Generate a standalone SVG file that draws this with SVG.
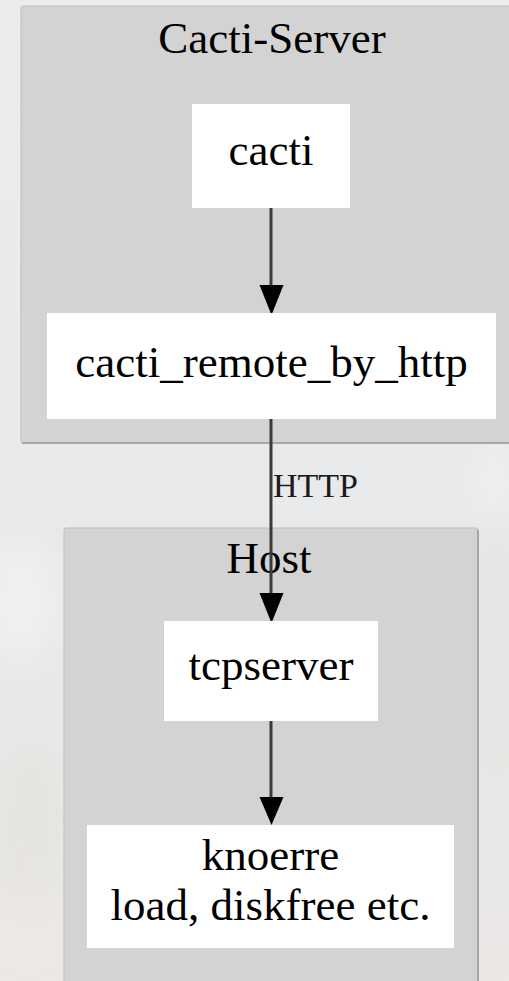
<svg xmlns="http://www.w3.org/2000/svg" width="509" height="981" viewBox="0 0 509 981">
<defs>
<style>
.cl{fill:#d3d3d3;stroke:#bdbdbd;stroke-width:1}
.clb{stroke:#9a9a9a;stroke-width:1.5;fill:none}
.nd{fill:#ffffff}
.t{font-family:'Liberation Serif','DejaVu Serif',serif;font-size:45px;fill:#000;text-anchor:middle}
.lbl{font-family:'Liberation Serif','DejaVu Serif',serif;font-size:34px;fill:#1a1a1a}
.e{stroke:#3a3a3a;stroke-width:3;fill:none}
.ah{fill:#000}
</style>
<linearGradient id="bg" x1="0" y1="0" x2="0" y2="1">
<stop offset="0" stop-color="#ebecee"/>
<stop offset="0.6" stop-color="#e8e9ea"/>
<stop offset="1" stop-color="#ebe8e6"/>
</linearGradient>
<filter id="blur" x="-50%" y="-50%" width="200%" height="200%"><feGaussianBlur stdDeviation="14"/></filter>
</defs>
<rect x="0" y="0" width="509" height="981" fill="url(#bg)"/>
<g filter="url(#blur)" opacity="0.5">
<ellipse cx="20" cy="600" rx="40" ry="60" fill="#f4f6f4"/>
<ellipse cx="30" cy="820" rx="40" ry="80" fill="#e3e1dc"/>
<ellipse cx="30" cy="950" rx="50" ry="40" fill="#efe8e4"/>
<ellipse cx="495" cy="650" rx="20" ry="140" fill="#e2e1dc"/>
<ellipse cx="495" cy="480" rx="25" ry="40" fill="#f3f3f3"/>
</g>
<g id="cluster_cacti_server">
<rect class="cl" x="21" y="6" width="500" height="437" rx="2"/>
<line class="clb" x1="22" y1="443" x2="509" y2="443"/>
<text class="t" x="272" y="53">Cacti-Server</text>
</g>
<g id="cluster_host">
<rect class="cl" x="64" y="528" width="414" height="470" rx="2"/>
<line class="clb" x1="478" y1="530" x2="478" y2="981"/>
<text class="t" x="269" y="573">Host</text>
</g>
<g id="connectors">
<line class="e" x1="271" y1="208" x2="271" y2="287"/>
<polygon class="ah" points="259.5,285 283.5,285 271.5,315"/>
<line class="e" x1="271" y1="419" x2="271" y2="595"/>
<polygon class="ah" points="259.5,593 283.5,593 271.5,623"/>
<text class="lbl" x="273" y="497">HTTP</text>
<line class="e" x1="271" y1="721" x2="271" y2="799"/>
<polygon class="ah" points="259.5,797 283.5,797 271.5,825"/>
</g>
<g id="node_cacti">
<rect class="nd" x="192" y="104" width="158" height="104"/>
<text class="t" x="271" y="165">cacti</text>
</g>
<g id="node_cacti_remote_by_http">
<rect class="nd" x="47" y="313" width="449" height="106"/>
<text class="t" x="271.5" y="377">cacti_remote_by_http</text>
</g>
<g id="node_tcpserver">
<rect class="nd" x="164" y="621" width="214" height="100"/>
<text class="t" x="271" y="680">tcpserver</text>
</g>
<g id="node_knoerre">
<rect class="nd" x="87" y="825" width="367" height="123"/>
<text class="t" x="270.5" y="870">knoerre</text>
<text class="t" x="270.5" y="920">load, diskfree etc.</text>
</g>
</svg>
